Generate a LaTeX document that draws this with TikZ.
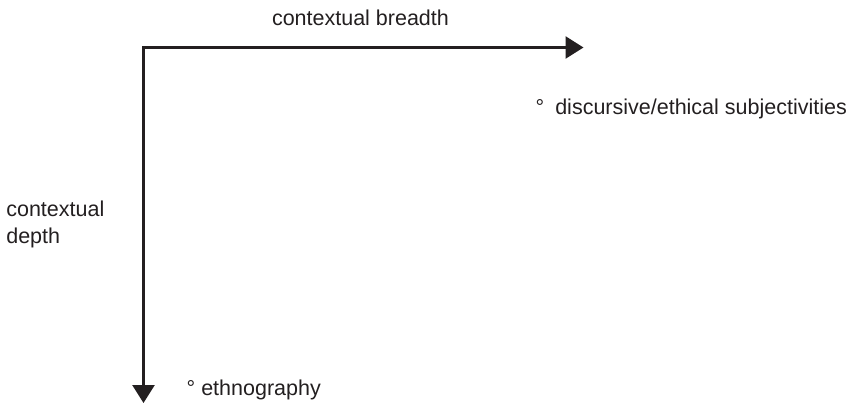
\documentclass[tikz,border=0pt]{standalone}
\usepackage{fontspec}
\setmainfont{Liberation Sans}
\usetikzlibrary{arrows.meta}
\definecolor{ink}{HTML}{231F20}
\tikzset{
  lbl/.style={inner sep=0pt, outer sep=0pt, anchor=base west, text=ink, font=\fontsize{21.5}{26}\selectfont},
  axis/.style={draw=ink, line width=2.6pt, line join=miter,
    {Triangle[length=18pt,width=22pt]}-{Triangle[length=18pt,width=22pt]}}
}
\begin{document}
\begin{tikzpicture}[x=1pt,y=1pt]
\useasboundingbox (0,0) rectangle (848,-406);
\coordinate (vtip) at (143.5,-403);
\coordinate (corner) at (143.5,-47.5);
\coordinate (htip) at (583.5,-47.5);
\draw[axis] (vtip) -- (corner) -- (htip);
\node[lbl] (breadth) at (272,-26) {contextual breadth};
\node[lbl] (depth1) at (6.3,-216.7) {contextual};
\node[lbl] (depth2) at (6.3,-243) {depth};
\node[lbl] (disc) at (535.5,-115) {°\hspace{11.2pt}discursive/ethical subjectivities};
\node[lbl] (ethno) at (186.5,-395) {°\hspace{6.2pt}ethnography};
\end{tikzpicture}
\end{document}
